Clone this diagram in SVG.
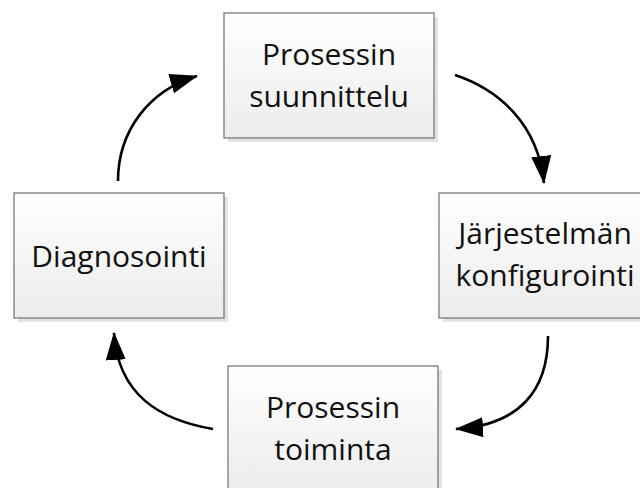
<svg xmlns="http://www.w3.org/2000/svg" width="640" height="488" viewBox="0 0 640 488">
  <defs>
    <linearGradient id="boxFill" x1="0" y1="0" x2="0" y2="1">
      <stop offset="0" stop-color="#ffffff"/>
      <stop offset="1" stop-color="#ececec"/>
    </linearGradient>
    <marker id="head" markerUnits="userSpaceOnUse" markerWidth="28" markerHeight="20" refX="27" refY="10" orient="auto" viewBox="0 0 28 20">
      <path d="M0,0 L28,10 L0,20 z" fill="#000"/>
    </marker>
  </defs>
  <style>
    .shadow { fill: #e3e3e3; }
    .box { fill: url(#boxFill); stroke: #7a7a7a; stroke-width: 1.3; }
    .label { font-family: "Open Sans", "Noto Sans", sans-serif; font-size: 30px; fill: #111; text-anchor: middle; }
    .arrow { fill: none; stroke: #000; stroke-width: 2.6; marker-end: url(#head); }
  </style>
  <rect width="640" height="488" fill="#fff"/>

  <g id="connectors">
    <path class="arrow" d="M455,75 C500,90 538,125 544,183"/>
    <path class="arrow" d="M548,336 C548,390 520,425 456,429"/>
    <path class="arrow" d="M213,429 C160,420 118,395 114,333"/>
    <path class="arrow" d="M118,181 C118,130 150,90 197,76"/>
  </g>

  <g id="suunnittelu">
    <rect class="shadow" x="228" y="17" width="210" height="125"/>
    <rect class="box" x="224" y="13" width="210" height="125"/>
    <text class="label" x="329" y="65">Prosessin</text>
    <text class="label" x="329" y="107">suunnittelu</text>
  </g>

  <g id="konfigurointi">
    <rect class="shadow" x="443" y="197" width="210" height="125"/>
    <rect class="box" x="439" y="193" width="210" height="125"/>
    <text class="label" x="545" y="244">Järjestelmän</text>
    <text class="label" x="545" y="286">konfigurointi</text>
  </g>

  <g id="toiminta">
    <rect class="shadow" x="232" y="370" width="210" height="125"/>
    <rect class="box" x="228" y="366" width="210" height="125"/>
    <text class="label" x="333" y="418">Prosessin</text>
    <text class="label" x="333" y="460">toiminta</text>
  </g>

  <g id="diagnosointi">
    <rect class="shadow" x="18" y="197" width="210" height="125"/>
    <rect class="box" x="14" y="193" width="210" height="125"/>
    <text class="label" x="119" y="267">Diagnosointi</text>
  </g>
</svg>
